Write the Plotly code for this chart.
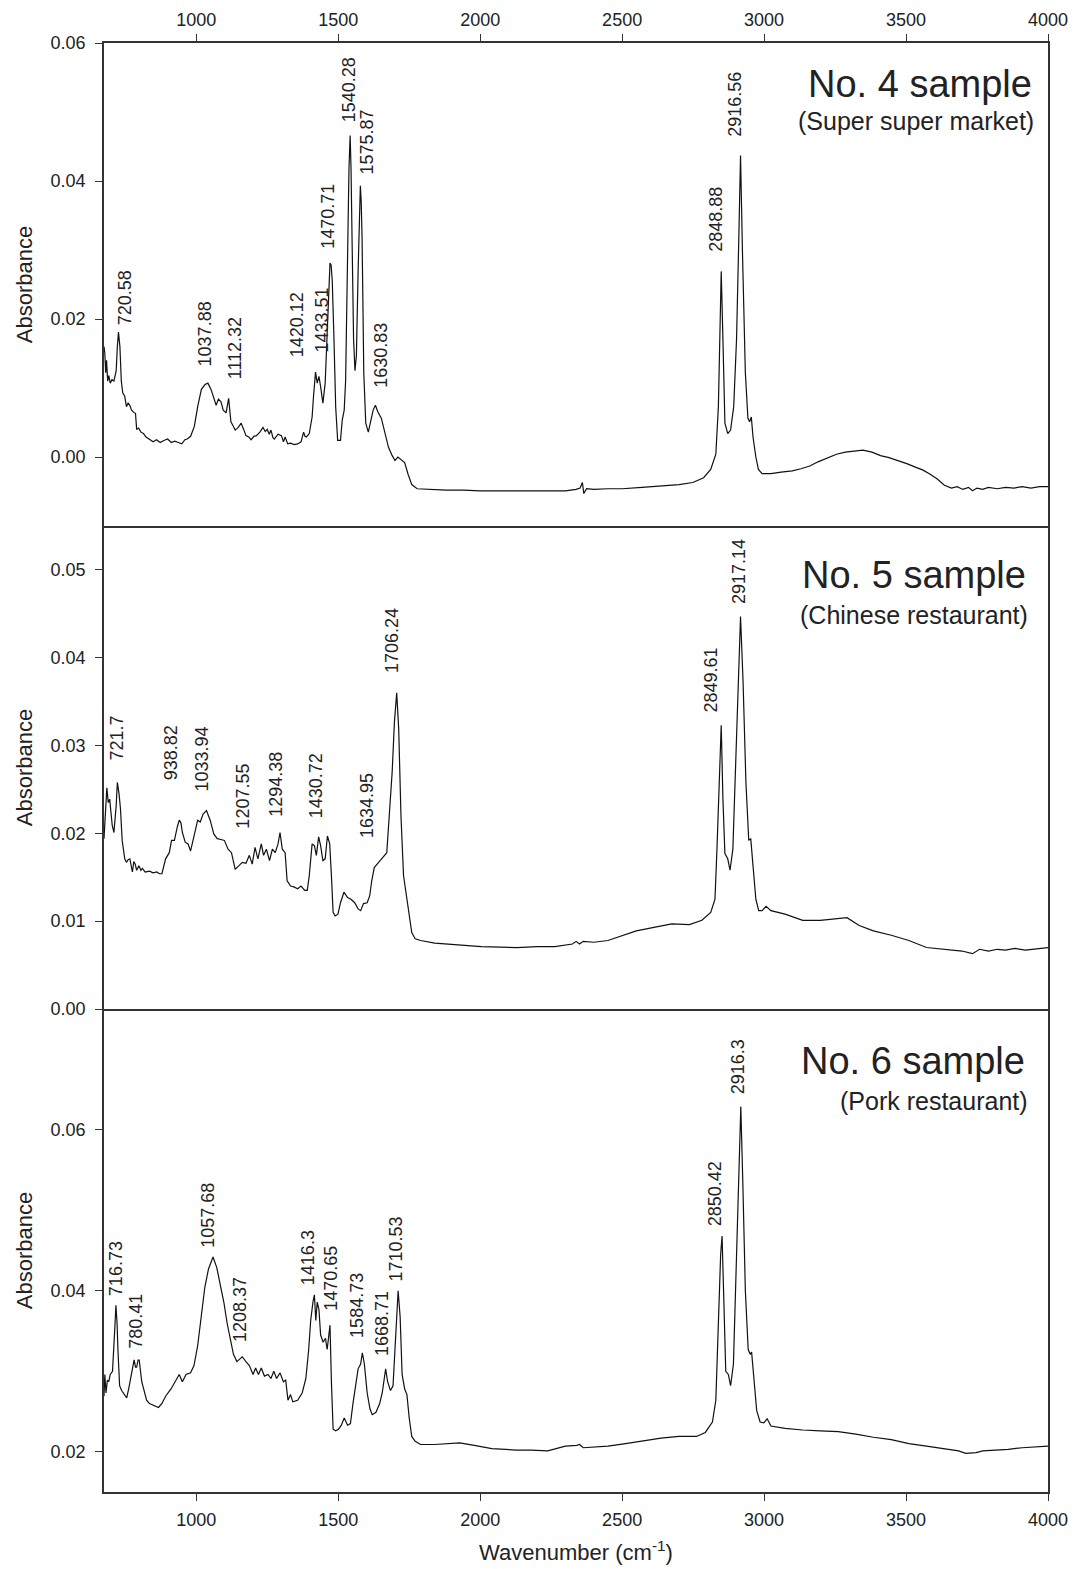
import plotly.graph_objects as go
from plotly.subplots import make_subplots

# ---------------- data ----------------
# No. 4 sample (Super super market)
wn4 = [675, 678, 681, 684, 688, 692, 697, 703, 710, 718,
       722, 726, 731, 736, 741, 748, 754, 760, 766, 772,
       779, 786, 790, 797, 805, 814, 823, 835, 848, 860,
       873, 886, 899, 912, 924, 937, 949, 960, 968, 980,
       993, 1005, 1018, 1031, 1041, 1052, 1062, 1070, 1078, 1087,
       1095, 1105, 1114, 1122, 1130, 1137, 1148, 1158, 1167, 1175,
       1185, 1193, 1203, 1212, 1224, 1235, 1243, 1250, 1257, 1263,
       1270, 1275, 1288, 1300, 1307, 1313, 1322, 1332, 1345, 1357,
       1369, 1378, 1383, 1388, 1398, 1408, 1413, 1420, 1426, 1432,
       1438, 1446, 1454, 1461, 1466, 1471, 1475, 1479, 1485, 1491,
       1498, 1508, 1514, 1521, 1526, 1529, 1534, 1538, 1542, 1545,
       1548, 1554, 1559, 1564, 1570, 1575, 1578, 1581, 1584, 1590,
       1597, 1606, 1614, 1623, 1631, 1639, 1652, 1665, 1677, 1690,
       1700, 1710, 1721, 1734, 1746, 1759, 1778, 1815, 1880, 1941,
       2000, 2066, 2138, 2200, 2263, 2300, 2338, 2352, 2360, 2365,
       2375, 2400, 2450, 2500, 2570, 2637, 2700, 2749, 2787, 2812,
       2830, 2839, 2844, 2849, 2855, 2862, 2872, 2882, 2893, 2903,
       2911, 2917, 2924, 2934, 2943, 2949, 2955, 2961, 2971, 2980,
       2993, 3024, 3060, 3099, 3130, 3161, 3190, 3223, 3255, 3286,
       3318, 3348, 3380, 3410, 3440, 3473, 3505, 3535, 3560, 3585,
       3610, 3635, 3660, 3680, 3700, 3720, 3734, 3750, 3770, 3790,
       3822, 3850, 3880, 3909, 3940, 3970, 4000]
ab4 = [.0160, .0150, .0122, .0140, .0110, .0118, .0107, .0112, .0110, .0125,
       .0160, .0181, .0160, .0110, .0093, .0088, .0073, .0078, .0075, .0068,
       .0065, .0063, .0040, .0042, .0036, .0034, .0029, .0026, .0022, .0025,
       .0021, .0024, .0026, .0021, .0023, .0021, .0019, .0025, .0026, .0030,
       .0044, .0073, .0098, .0105, .0107, .0098, .0085, .0075, .0084, .0080,
       .0068, .0064, .0085, .0051, .0045, .0039, .0043, .0049, .0040, .0031,
       .0029, .0025, .0030, .0031, .0036, .0043, .0037, .0040, .0033, .0039,
       .0028, .0026, .0033, .0031, .0022, .0029, .0019, .0020, .0018, .0019,
       .0022, .0036, .0030, .0029, .0034, .0058, .0088, .0123, .0107, .0117,
       .0102, .0078, .0107, .0181, .0250, .0281, .0278, .0255, .0171, .0073,
       .0024, .0024, .0053, .0068, .0110, .0171, .0318, .0420, .0466, .0420,
       .0318, .0171, .0125, .0147, .0269, .0370, .0393, .0370, .0318, .0122,
       .0049, .0036, .0053, .0068, .0075, .0066, .0056, .0036, .0014, .0002,
       -.0005, .0000, -.0004, -.0008, -.0025, -.0040, -.0046, -.0047, -.0048, -.0048,
       -.0049, -.0049, -.0049, -.0050, -.0050, -.0049, -.0047, -.0045, -.0037, -.0053,
       -.0046, -.0047, -.0046, -.0046, -.0044, -.0042, -.0040, -.0037, -.0030, -.0018,
       .0004, .0073, .0196, .0269, .0171, .0049, .0034, .0039, .0073, .0171,
       .0318, .0437, .0294, .0122, .0056, .0051, .0058, .0029, .0000, -.0018,
       -.0024, -.0024, -.0022, -.0020, -.0017, -.0013, -.0007, -.0001, .0004, .0007,
       .0009, .0010, .0007, .0002, -.0001, -.0005, -.0010, -.0015, -.0019, -.0025,
       -.0032, -.0041, -.0045, -.0043, -.0047, -.0044, -.0049, -.0045, -.0047, -.0044,
       -.0046, -.0044, -.0045, -.0043, -.0045, -.0043, -.0043]

# No. 5 sample (Chinese restaurant)
wn5 = [675, 680, 685, 690, 695, 704, 710, 718, 722, 728,
       733, 739, 748, 754, 760, 766, 770, 775, 780, 785,
       790, 798, 805, 810, 820, 835, 848, 861, 870, 879,
       892, 905, 913, 923, 933, 940, 946, 951, 961, 971,
       980, 992, 1005, 1014, 1024, 1036, 1049, 1062, 1074, 1087,
       1099, 1112, 1124, 1137, 1150, 1162, 1175, 1187, 1197, 1207,
       1217, 1229, 1237, 1247, 1258, 1268, 1278, 1288, 1295, 1303,
       1313, 1320, 1332, 1344, 1357, 1369, 1382, 1391, 1398, 1408,
       1416, 1423, 1431, 1438, 1446, 1454, 1462, 1470, 1476, 1482,
       1489, 1499, 1508, 1520, 1533, 1545, 1558, 1570, 1579, 1589,
       1602, 1611, 1618, 1627, 1637, 1646, 1658, 1671, 1680, 1690,
       1698, 1706, 1713, 1721, 1730, 1740, 1750, 1759, 1771, 1790,
       1840, 1916, 2004, 2129, 2200, 2263, 2325, 2338, 2350, 2363,
       2400, 2450, 2512, 2550, 2612, 2675, 2737, 2781, 2812, 2827,
       2834, 2842, 2849, 2855, 2862, 2872, 2880, 2890, 2901, 2909,
       2917, 2926, 2936, 2946, 2953, 2961, 2971, 2981, 2993, 3007,
       3024, 3074, 3136, 3198, 3261, 3292, 3335, 3385, 3448, 3510,
       3572, 3635, 3697, 3734, 3759, 3790, 3822, 3850, 3884, 3920,
       3946, 3975, 4000]
ab5 = [.0194, .0222, .0252, .0235, .0239, .0209, .0201, .0232, .0258, .0245,
       .0228, .0192, .0171, .0167, .0170, .0171, .0162, .0156, .0168, .0165,
       .0158, .0163, .0158, .0160, .0156, .0157, .0155, .0156, .0154, .0154,
       .0171, .0178, .0192, .0192, .0207, .0215, .0212, .0201, .0190, .0188,
       .0180, .0197, .0215, .0213, .0222, .0226, .0215, .0199, .0194, .0193,
       .0192, .0182, .0178, .0159, .0163, .0167, .0166, .0175, .0165, .0184,
       .0171, .0188, .0175, .0182, .0169, .0182, .0178, .0188, .0201, .0182,
       .0178, .0146, .0140, .0139, .0137, .0140, .0135, .0135, .0152, .0188,
       .0186, .0175, .0196, .0186, .0169, .0171, .0197, .0188, .0152, .0110,
       .0106, .0108, .0121, .0133, .0127, .0125, .0121, .0114, .0112, .0120,
       .0121, .0129, .0146, .0161, .0165, .0169, .0173, .0178, .0220, .0270,
       .0327, .0360, .0319, .0220, .0152, .0129, .0103, .0087, .0080, .0078,
       .0075, .0073, .0071, .0070, .0071, .0071, .0074, .0077, .0074, .0077,
       .0076, .0078, .0085, .0089, .0093, .0097, .0096, .0101, .0110, .0125,
       .0182, .0258, .0323, .0239, .0177, .0171, .0158, .0182, .0296, .0391,
       .0447, .0372, .0258, .0192, .0194, .0163, .0125, .0112, .0112, .0117,
       .0112, .0108, .0101, .0101, .0103, .0104, .0095, .0089, .0084, .0078,
       .0070, .0068, .0066, .0063, .0068, .0066, .0068, .0067, .0069, .0067,
       .0068, .0069, .0070]

# No. 6 sample (Pork restaurant)
wn6 = [675, 678, 682, 687, 692, 697, 705, 710, 714, 717,
       721, 724, 730, 737, 748, 755, 763, 773, 781, 786,
       790, 795, 799, 808, 817, 825, 835, 848, 867, 879,
       892, 911, 926, 940, 951, 964, 980, 992, 1005, 1018,
       1030, 1043, 1059, 1072, 1084, 1097, 1109, 1122, 1131, 1143,
       1150, 1162, 1175, 1187, 1200, 1209, 1219, 1229, 1240, 1253,
       1263, 1273, 1283, 1295, 1307, 1315, 1323, 1332, 1340, 1357,
       1373, 1386, 1396, 1403, 1411, 1416, 1421, 1426, 1432, 1438,
       1447, 1455, 1461, 1466, 1471, 1476, 1482, 1491, 1501, 1511,
       1521, 1533, 1543, 1552, 1562, 1570, 1579, 1585, 1592, 1602,
       1612, 1620, 1633, 1646, 1655, 1661, 1667, 1674, 1684, 1693,
       1700, 1706, 1711, 1718, 1725, 1734, 1742, 1750, 1759, 1771,
       1790, 1840, 1891, 1928, 1979, 2041, 2129, 2180, 2238, 2300,
       2340, 2350, 2363, 2450, 2512, 2575, 2637, 2700, 2762, 2793,
       2818, 2830, 2839, 2847, 2852, 2858, 2865, 2874, 2882, 2892,
       2901, 2909, 2918, 2925, 2934, 2944, 2951, 2956, 2964, 2974,
       2986, 2999, 3011, 3024, 3074, 3136, 3198, 3261, 3323, 3385,
       3448, 3510, 3572, 3635, 3685, 3710, 3747, 3770, 3822, 3860,
       3909, 3950, 4000]
ab6 = [.0269, .0296, .0273, .0289, .0287, .0296, .0300, .0327, .0360, .0382,
       .0360, .0327, .0282, .0276, .0271, .0267, .0280, .0300, .0314, .0305,
       .0305, .0314, .0314, .0287, .0273, .0264, .0260, .0258, .0255, .0260,
       .0269, .0278, .0287, .0296, .0287, .0296, .0298, .0307, .0332, .0368,
       .0404, .0427, .0442, .0429, .0409, .0386, .0359, .0336, .0321, .0312,
       .0314, .0318, .0312, .0307, .0296, .0304, .0296, .0304, .0294, .0296,
       .0291, .0300, .0291, .0298, .0287, .0289, .0264, .0271, .0262, .0264,
       .0273, .0291, .0327, .0363, .0386, .0395, .0363, .0386, .0377, .0345,
       .0336, .0341, .0327, .0345, .0357, .0287, .0228, .0226, .0228, .0233,
       .0242, .0233, .0235, .0260, .0287, .0303, .0309, .0323, .0309, .0273,
       .0253, .0246, .0249, .0260, .0273, .0291, .0303, .0287, .0276, .0282,
       .0332, .0382, .0400, .0368, .0296, .0278, .0271, .0242, .0219, .0213,
       .0209, .0209, .0210, .0211, .0208, .0204, .0202, .0202, .0201, .0207,
       .0208, .0209, .0205, .0207, .0210, .0214, .0217, .0219, .0219, .0224,
       .0237, .0264, .0355, .0445, .0468, .0377, .0300, .0296, .0282, .0309,
       .0422, .0535, .0629, .0535, .0400, .0327, .0321, .0324, .0287, .0251,
       .0237, .0236, .0241, .0232, .0229, .0227, .0226, .0225, .0222, .0218,
       .0215, .0210, .0207, .0204, .0201, .0198, .0199, .0201, .0202, .0203,
       .0205, .0206, .0207]

# peak labels: text, wavenumber and absorbance at the foot of the label
peaks4 = ["720.58", "1037.88", "1112.32", "1420.12", "1433.51", "1470.71",
          "1540.28", "1575.87", "1630.83", "2848.88", "2916.56"]
peaks4_x = [747, 1034, 1137, 1354, 1442, 1466, 1536, 1602, 1650, 2830, 2899]
peaks4_y = [0.0188, 0.0129, 0.0110, 0.0142, 0.0149, 0.0299, 0.0482, 0.0406, 0.0098, 0.0295, 0.0461]

peaks5 = ["721.7", "938.82", "1033.94", "1207.55", "1294.38", "1430.72",
          "1634.95", "1706.24", "2849.61", "2917.14"]
peaks5_x = [720, 912, 1021, 1166, 1281, 1420, 1602, 1690, 2814, 2914]
peaks5_y = [0.0281, 0.0258, 0.0245, 0.0203, 0.0216, 0.0215, 0.0192, 0.0380, 0.0335, 0.0459]

peaks6 = ["716.73", "780.41", "1057.68", "1208.37", "1416.3", "1470.65",
          "1584.73", "1668.71", "1710.53", "2850.42", "2916.3"]
peaks6_x = [716, 785, 1043, 1156, 1394, 1474, 1568, 1655, 1705, 2830, 2911]
peaks6_y = [0.0391, 0.0325, 0.0451, 0.0334, 0.0404, 0.0373, 0.0339, 0.0316, 0.0409, 0.0478, 0.0642]

sample_titles = ["No. 4 sample", "No. 5 sample", "No. 6 sample"]
sample_subtitles = ["(Super super market)", "(Chinese restaurant)", "(Pork restaurant)"]

x_ticks = [1000, 1500, 2000, 2500, 3000, 3500, 4000]
y_ticks = [[0.00, 0.02, 0.04, 0.06],
           [0.00, 0.01, 0.02, 0.03, 0.04, 0.05],
           [0.02, 0.04, 0.06]]
y_ranges = [[-0.01, 0.06], [0.0, 0.055], [0.015, 0.075]]
x_range = [675, 4000]

# ---------------- figure ----------------
FONT = "Liberation Sans, Arial, Helvetica, sans-serif"
TXT = "#222222"
AX = "#333333"

fig = make_subplots(rows=3, cols=1, vertical_spacing=0)

spectra = [(wn4, ab4), (wn5, ab5), (wn6, ab6)]
for i, (wx, wy) in enumerate(spectra):
    fig.add_trace(go.Scatter(x=wx, y=wy, mode="lines",
                             line=dict(color="#111111", width=1.2),
                             showlegend=False, hoverinfo="skip"),
                  row=i + 1, col=1)

peak_sets = [(peaks4, peaks4_x, peaks4_y), (peaks5, peaks5_x, peaks5_y),
             (peaks6, peaks6_x, peaks6_y)]
title_pos = [(3943, 0.0541, 3949, 0.0487), (3924, 0.0494, 3931, 0.0449),
             (3919, 0.0686, 3931, 0.0636)]

for i, (txts, px, py) in enumerate(peak_sets):
    xr = "x" if i == 0 else f"x{i+1}"
    yr = "y" if i == 0 else f"y{i+1}"
    for t, xx, yy in zip(txts, px, py):
        fig.add_annotation(x=xx, y=yy, xref=xr, yref=yr, text=t, showarrow=False,
                           textangle=-90, xanchor="center", yanchor="bottom",
                           font=dict(family=FONT, size=18, color=TXT))
    tx, ty, sx, sy = title_pos[i]
    fig.add_annotation(x=tx, y=ty, xref=xr, yref=yr, text=sample_titles[i],
                       showarrow=False, xanchor="right", yanchor="middle",
                       borderpad=0, borderwidth=0,
                       font=dict(family=FONT, size=38, color=TXT))
    fig.add_annotation(x=sx, y=sy, xref=xr, yref=yr, text=sample_subtitles[i],
                       showarrow=False, xanchor="right", yanchor="middle",
                       borderpad=0, borderwidth=0,
                       font=dict(family=FONT, size=25, color=TXT))

common_axis = dict(showline=True, linecolor=AX, linewidth=1.5,
                   showgrid=False, zeroline=False, automargin=False,
                   tickfont=dict(family=FONT, size=18, color=TXT))

for i in range(3):
    r = i + 1
    xa = dict(common_axis, range=x_range, tickvals=x_ticks)
    if r == 1:
        # top axis with ticks/labels; mirrored line closes the panel bottom
        xa.update(side="top", mirror=True, ticks="outside", ticklen=7, tickwidth=1.3,
                  tickcolor=AX, showticklabels=True, ticklabelstandoff=1)
    elif r == 2:
        # bottom line only (top boundary already drawn by panel 1)
        xa.update(mirror=False, ticks="", showticklabels=False)
    else:
        xa.update(side="bottom", mirror=False, ticks="outside", ticklen=7, tickwidth=1.3,
                  tickcolor=AX, showticklabels=True, ticklabelstandoff=4,
                  title=dict(text="Wavenumber (cm<sup>-1</sup>)", standoff=15,
                             font=dict(family=FONT, size=22, color=TXT)))
    fig.update_xaxes(row=r, col=1, **xa)
    fig.update_yaxes(row=r, col=1, range=y_ranges[i], tickvals=y_ticks[i],
                     tickformat=".2f", ticks="outside", ticklen=7, tickwidth=1.3,
                     tickcolor=AX, ticklabelstandoff=6, mirror=True,
                     title=dict(text="Absorbance", standoff=12,
                                font=dict(family=FONT, size=22, color=TXT)),
                     **common_axis)

fig.update_layout(width=1074, height=1569,
                  margin=dict(l=104, r=26, t=43, b=77, pad=0, autoexpand=False),
                  paper_bgcolor="white", plot_bgcolor="white",
                  font=dict(family=FONT, color=TXT))

fig.write_html("out.html")
